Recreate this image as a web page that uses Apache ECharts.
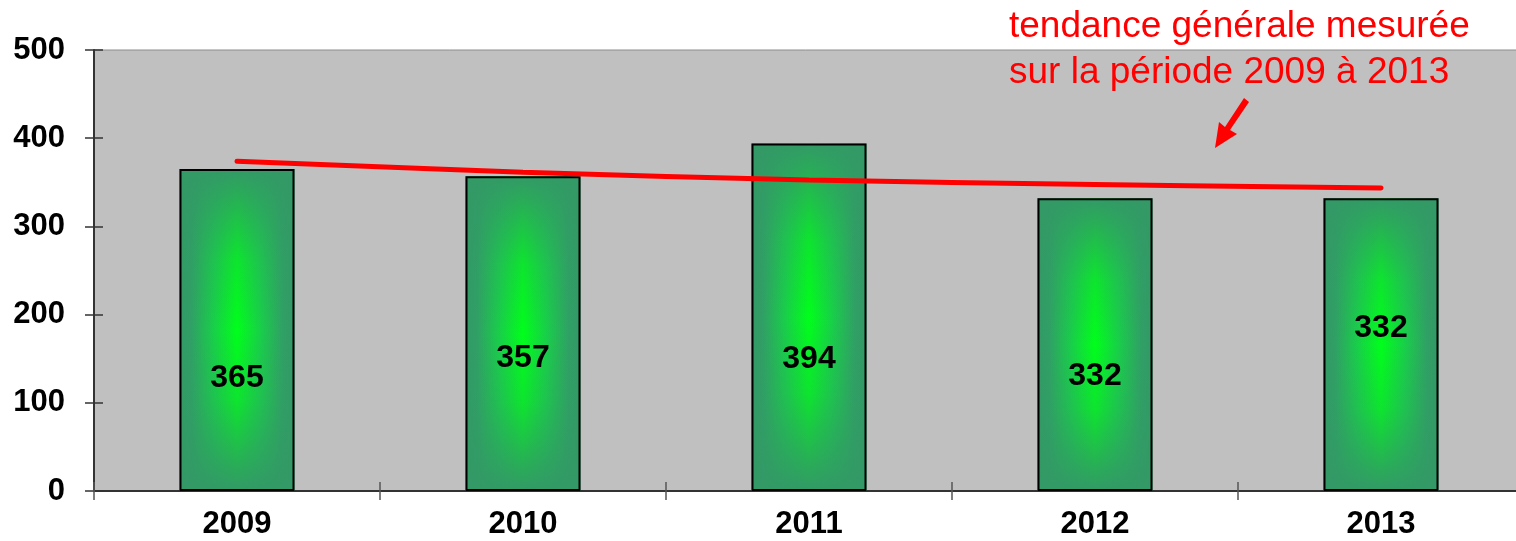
<!DOCTYPE html>
<html>
<head>
<meta charset="utf-8">
<style>html,body{margin:0;padding:0;background:#fff;}#c{width:1516px;height:541px;}</style>
<script src="https://cdn.jsdelivr.net/npm/echarts@6/dist/echarts.min.js"></script>
</head>
<body>
<div id="c"></div>
<script>
// ---- data ----
var years = ['2009', '2010', '2011', '2012', '2013'];
var values = [365, 357, 394, 332, 332];
var trend = [374, 361.5, 352.6, 347.5, 343.5];
var yTicks = [0, 100, 200, 300, 400, 500];
var noteLines = ['tendance générale mesurée', 'sur la période 2009 à 2013'];
// ---- styling (label distance from bar bottom, px) ----
var labelLift = [97, 117, 116, 99, 147];

var chart = echarts.init(document.getElementById('c'), null, {renderer: 'canvas'});
var FONT = 'Arial, "Liberation Sans", sans-serif';

var overlayData = values.map(function (v, i) {
  return {
    value: v,
    label: {distance: labelLift[i]}
  };
});

var option = {
  animation: false,
  backgroundColor: '#ffffff',
  grid: {
    left: 94, top: 50, bottom: 50, width: 1430,
    outerBoundsMode: 'none', containLabel: false,
    show: true, backgroundColor: '#c0c0c0', borderColor: '#8c8c8c', borderWidth: 1
  },
  xAxis: [{
    type: 'category', data: years,
    axisLine: {lineStyle: {color: '#333', width: 2}},
    axisTick: {show: true, length: 9, lineStyle: {color: '#555', width: 1.5}},
    axisLabel: {color: '#000', fontFamily: FONT, fontWeight: 'bold', fontSize: 31, margin: 18}
  }, {
    type: 'category', data: years, position: 'bottom',
    axisLine: {show: false},
    axisTick: {show: true, inside: true, length: 9, lineStyle: {color: '#555', width: 1.5}},
    axisLabel: {show: false}
  }],
  yAxis: [{
    type: 'value', min: yTicks[0], max: yTicks[yTicks.length - 1], interval: 100,
    axisLine: {show: true, lineStyle: {color: '#333', width: 2}},
    axisTick: {show: true, length: 9, lineStyle: {color: '#333', width: 1.5}},
    splitLine: {show: false},
    axisLabel: {color: '#000', fontFamily: FONT, fontWeight: 'bold', fontSize: 31, margin: 29}
  }, {
    type: 'value', min: yTicks[0], max: yTicks[yTicks.length - 1], interval: 100, position: 'left',
    axisLine: {show: false},
    axisTick: {show: true, inside: true, length: 9, lineStyle: {color: '#333', width: 1.5}},
    splitLine: {show: false},
    axisLabel: {show: false}
  }],
  series: [{
    type: 'bar', data: values, barWidth: 115, xAxisIndex: 0, yAxisIndex: 0,
    itemStyle: {
      color: new echarts.graphic.LinearGradient(0, 0, 1, 0, [
        {offset: 0, color: '#339966'},
        {offset: 0.1, color: '#30a065'},
        {offset: 0.3, color: '#18d048'},
        {offset: 0.5, color: '#00ff1a'},
        {offset: 0.7, color: '#18d048'},
        {offset: 0.9, color: '#30a065'},
        {offset: 1, color: '#339966'}
      ])
    }
  }, {
    type: 'bar', data: overlayData, barWidth: 115, barGap: '-100%', xAxisIndex: 0, yAxisIndex: 0,
    itemStyle: {
      color: new echarts.graphic.LinearGradient(0, 0, 0, 1, [
        {offset: 0, color: 'rgba(51,153,102,1)'},
        {offset: 0.08, color: 'rgba(51,153,102,0.8)'},
        {offset: 0.28, color: 'rgba(51,153,102,0.25)'},
        {offset: 0.5, color: 'rgba(51,153,102,0)'},
        {offset: 0.72, color: 'rgba(51,153,102,0.25)'},
        {offset: 0.92, color: 'rgba(51,153,102,0.8)'},
        {offset: 1, color: 'rgba(51,153,102,1)'}
      ]),
      borderColor: '#000', borderWidth: 2
    },
    label: {
      show: true, position: 'insideBottom', color: '#000',
      fontFamily: FONT, fontWeight: 'bold', fontSize: 32
    }
  }, {
    type: 'line', data: trend, smooth: 0.4, symbol: 'none', z: 5,
    lineStyle: {color: '#ff0000', width: 5, cap: 'round'}
  }],
  graphic: [{
    type: 'text', left: 1009, top: 8, z: 10,
    style: {text: noteLines[0], fill: '#ff0000', font: '37px ' + FONT}
  }, {
    type: 'text', left: 1009, top: 54, z: 10,
    style: {text: noteLines[1], fill: '#ff0000', font: '37px ' + FONT}
  }, {
    type: 'polygon', z: 10,
    shape: {points: [[1249, 102], [1230, 130], [1237, 134], [1215, 148], [1219, 122], [1225, 127], [1244, 98]]},
    style: {fill: '#ff0000'}
  }]
};
chart.setOption(option);
</script>
</body>
</html>
